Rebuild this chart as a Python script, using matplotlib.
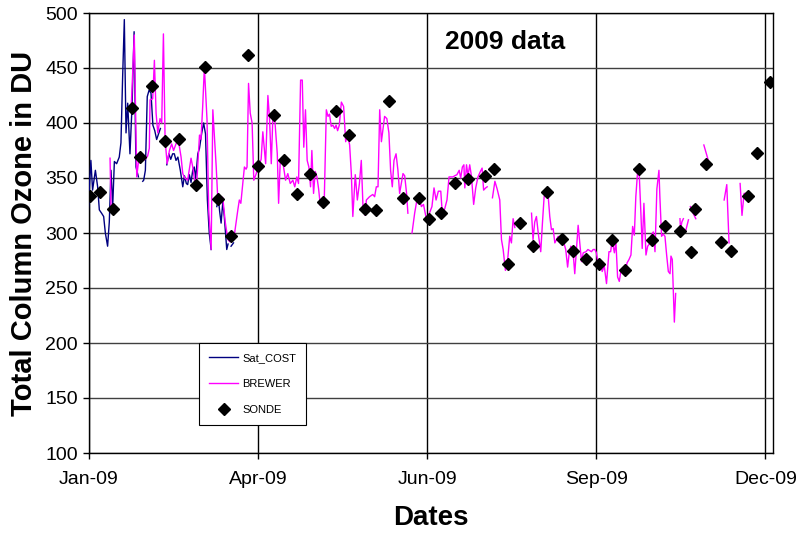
import numpy as np
import matplotlib
matplotlib.use("Agg")
import matplotlib.pyplot as plt
import matplotlib.dates as mdates
from datetime import datetime

# ── Data (day offsets from 1 Jan 2009, values in DU; nan = gap) ─────────────

nan = np.nan

cost_day = [
    -0.4, 0.2, 1.0, 1.9, 3.4, 4.6, 5.5, 6.7, 7.8, 8.7, 9.9, 10.8, 11.7, 12.6,
    13.5, 14.7, 16.1, 17.0, 17.9, 18.8, 19.7, 20.6, 21.8, 22.9, 24.0, 25.0,
    26.3, 27.0,
    28.6, 29.1, 30.0, 31.0, 32.0, 33.0, 34.0, 35.0, 36.0, 37.0, 38.0, 38.5,
    41.4, 42.5, 43.5, 44.5, 45.4, 46.3, 47.3, 48.6, 49.9, 50.8, 51.8, 52.5,
    53.4, 54.3, 55.2, 56.0, 56.8, 57.9, 58.8, 60.0, 61.0, 62.0, 63.0, 64.0,
    65.0, 65.5,
    68.0, 68.9, 69.5, 70.3, 71.2, 72.0, 73.3, 74.0, 74.5,
    75.6, 76.9,
]
cost_du = [
    318, 342, 366, 339, 357, 342, 321, 318, 315, 300, 288, 310, 357, 324,
    365, 363, 369, 382, 442, 494, 391, 418, 372, 415, 483, 360,
    351, nan,
    347, 348, 357, 424, 430, 427, 398, 393, 385, 390, 395, nan,
    362, 372, 367, 372, 372, 366, 369, 357, 342, 352, 345, 344,
    353, 346, 357, 360, 350, 372, 377, 391, 400, 390, 330, 300,
    285, nan,
    324, 331, 320, 309, 328, 315, 285, 290, nan,
    288, 291,
]

brewer_day = [
    11.2, 11.7, 12.0,
    22.4, 24.1, 25.4, 26.4, 28.0, 29.0, 30.4, 31.2, 32.1, 32.5, 33.9, 34.8,
    35.7, 36.6, 37.8, 38.7, 39.6, 40.5, 41.6, 42.8, 44.0, 45.0, 46.3, 47.5,
    49.0, 49.9, 51.0, 52.5, 54.3, 55.2, 56.5, 57.5, 58.8, 59.6, 60.5, 61.4,
    62.8, 63.7, 65.0, 65.9, 67.7, 68.5, 70.3, 71.2, 72.5, 73.9, 75.0, 76.5,
    77.5, 79.2, 80.0, 80.8, 82.7, 83.6, 84.1, 84.9, 85.8, 86.8, 87.7, 89.0,
    89.8, 90.7, 91.6, 92.5, 93.0, 94.0, 95.2, 96.1, 97.0, 97.8, 98.7, 100.2,
    100.9, 101.8, 103.0, 104.6, 105.8, 107.1, 108.5, 109.5, 110.6, 111.5,
    112.6, 113.5, 114.3, 115.2, 116.1, 117.0, 117.9, 118.6, 119.5, 120.4,
    121.3, 122.2, 123.1, 124.2, 125.2, 126.3, 127.2, 128.0, 128.9, 129.8,
    130.7, 131.5, 132.3, 133.2, 134.3, 135.5, 136.6, 137.6, 138.7, 139.6,
    140.4, 141.7, 142.8, 143.9, 144.9, 145.9, 147.0, 147.6, 149.3, 151.0,
    152.0, 152.9, 153.8, 154.7, 155.6, 157.3, 158.5, 159.6, 160.5, 161.4,
    162.3, 163.4, 164.4, 165.3, 167.1, 168.0, 169.0, 169.7, 170.5,
    171.9, 173.3, 174.5, 175.6, 176.9, 178.0, 179.5, 180.5, 182.5, 183.6,
    184.7, 185.9, 187.2, 188.0, 189.3, 190.5, 191.6, 193.7, 194.6, 195.8,
    197.0, 197.8, 198.7, 199.5, 200.0, 200.9, 201.7, 202.6, 203.5, 204.7,
    205.8, 207.0, 208.3, 209.2, 210.0, 211.1, 211.9, 213.0,
    214.7, 216.0, 217.2, 218.6, 219.5, 220.4, 221.6, 222.6, 223.9, 224.8,
    225.7, 226.6, 227.5,
    235.5, 236.3, 237.2, 238.1, 239.2, 240.4, 241.3, 242.2, 243.3, 244.3,
    245.2, 246.1, 247.0, 247.9, 248.8, 249.7, 250.6, 251.6, 252.7, 253.7,
    254.7, 255.5, 256.4, 257.5, 258.5, 259.4, 260.3, 261.2, 262.1, 263.0,
    264.5, 265.5, 266.5, 267.4, 268.3, 269.2, 270.0, 271.0, 272.0, 273.1,
    274.2, 275.4, 276.7, 277.6, 278.4, 279.6, 280.4, 281.3, 282.2, 283.1,
    284.0, 285.4, 286.4, 287.4, 288.4, 289.3, 290.2, 291.0, 292.0, 292.8,
    293.7, 294.4, 295.3, 296.4, 297.3, 298.2, 299.0, 300.3, 301.2, 302.2,
    303.3, 303.8, 304.7, 305.6, 306.5, 307.4, 308.3, 309.2, 309.7, 310.4,
    310.9, 311.5, 312.2, 313.0,
    314.5, 314.8, 315.5, 316.3, 317.0,
    317.7, 319.0, 319.5,
    320.0, 321.5, 322.9, 323.5,
    327.2, 329.4, 330.0,
    338.0, 339.4, 340.6, 341.0,
    346.5, 347.5, 348.6, 350.0,
]
brewer_du = [
    368, 324, nan,
    412, 480, 351, 366, 369, 366, 368, 370, 377, 421, 422, 457,
    409, 391, 404, 400, 481, 384, 363, 375, 381, 375, 381, 385,
    369, 354, 350, 348, 368, 360, 344, 350, 389, 385, 415, 451,
    403, 321, 285, 412, 360, 332, 333, 332, 310, 294, 292, 294,
    300, 321, 330, 327, 360, 358, 360, 436, 409, 400, 348, 354,
    361, 363, 367, 392, 382, 363, 425, 403, 363, 403, 407, 372,
    327, 366, 366, 348, 354, 345, 348, 342, 351, 345,
    439, 439, 378, 412, 366, 360, 342, 375, 336, 356,
    351, 340, 325, 326, 330, 412, 406, 408, 397, 398,
    395, 398, 393, 398, 419, 415, 383, 390, 380, 354,
    315, 353, 330, 345, 366, 320, 316, 330, 333, 335,
    333, 342, 342, 412, 383, 406, 404, 391, 357, 342,
    366, 372, 357, 336, 354, 352, 336, 318, nan,
    300, 318, 330, 332, 324, 326, 313, 315, 324, 341,
    330, 338, 338, 318, 322, 330, 351, 351, 352, 353,
    357, 350, 360, 362, 341, 362, 352, 362, 352, 326,
    341, 351, 356, 359, 339, 341, 342, nan,
    332, 347, 340, 330, 294, 285, 266, 272, 297, 291,
    313, 305, nan,
    318, 294, 310, 315, 298, 283, 309, 333, 337, 335,
    315, 303, 304, 291, 294, 297, 294, 296, 291, 285,
    269, 281, 288, 285, 263, 285, 307, 291, 274, 282,
    283, 285, 284, 283, 285, 285, 282, 272, 275, 265,
    270, 254, 283, 283, 293, 282, 292, 260, 256, 266,
    268, 266, 273, 276, 280, 306, 298, 333, 357, 354,
    318, 286, 327, 280, 288, 290, 297, 301, 283, 340,
    357, 333, 297, 299, 297, 280, 265, 263, 279, 276,
    251, 219, 245, nan,
    313, 303, 310, 313, nan,
    303, 312, nan,
    324, 318, 313, nan,
    380, 367, nan,
    330, 344, 291, nan,
    345, 316, 336, 336,
]

sonde_day = [
    0.7, 5.7, 13.0, 22.9, 27.0, 33.7, 40.7, 47.9, 56.8, 61.8,
    68.9, 75.8, 84.7, 89.8, 98.7, 103.9, 110.8, 117.7, 124.7, 131.6,
    138.5, 146.7, 152.7, 159.6, 166.9, 175.6, 180.8, 187.5, 194.6, 201.7,
    210.6, 215.6, 222.9, 229.4, 236.5, 243.5, 251.6, 257.7, 264.4, 271.3,
    278.3, 285.4, 292.5, 299.6, 306.7, 314.5, 320.3, 322.3, 328.3, 336.5,
    341.7, 350.5, 355.5, 362.4,
]
sonde_du = [
    334, 337, 322, 414, 369, 434, 384, 385, 344, 451,
    331, 297, 462, 361, 407, 366, 335, 354, 328, 411,
    389, 322, 321, 420, 332, 332, 313, 318, 345, 349,
    352, 358, 272, 309, 288, 337, 295, 284, 276, 272,
    294, 266, 358, 294, 306, 302, 283, 322, 363, 292,
    284, 334, 373, 437,
]

# ── Plot ──────────────────────────────────────────────────────────────────────

start = mdates.date2num(datetime(2009, 1, 1))
to_x = lambda d: start + np.asarray(d, dtype=float)

plt.rcParams["font.family"] = ["Liberation Sans", "DejaVu Sans"]

fig = plt.figure(figsize=(7.96, 5.35), dpi=100)
ax = fig.add_axes([89 / 796, 82 / 535, 684 / 796, 440 / 535])

ax.plot(to_x(cost_day), cost_du, color="#000080", lw=1.0, label="Sat_COST", zorder=3)
ax.plot(to_x(brewer_day), brewer_du, color="#FF00FF", lw=1.0, label="BREWER", zorder=4)
ax.plot(to_x(sonde_day), sonde_du, "D", color="black", ms=6, ls="none",
        label="SONDE", zorder=5)

ax.set_xlim(start, start + 364)
ax.set_ylim(100, 500)
ax.set_yticks(np.arange(100, 501, 50))
ax.set_xticks(to_x([0, 90, 180, 270, 360]))
ax.xaxis.set_major_formatter(mdates.DateFormatter("%b-%y"))

ax.grid(True, axis="y", color="#404040", lw=1.0)
ax.grid(True, axis="x", color="black", lw=1.0)
ax.set_axisbelow(True)
for s in ax.spines.values():
    s.set_color("black")
    s.set_linewidth(1.0)

ax.tick_params(direction="out", length=4, width=1, labelsize=14)
ax.tick_params(axis="x", pad=9)
ax.tick_params(axis="y", pad=4)

ax.set_ylabel("Total Column Ozone in DU", fontsize=21, fontweight="bold", labelpad=5)
ax.set_xlabel("Dates", fontsize=20, fontweight="bold", labelpad=12)
ax.text(0.608, 0.935, "2009 data", transform=ax.transAxes, fontsize=19,
        fontweight="bold", ha="center", va="center")

leg = ax.legend(loc="upper left", bbox_to_anchor=(0.161, 0.25), borderaxespad=0,
                fontsize=8, frameon=True, fancybox=False, framealpha=1,
                edgecolor="black", labelspacing=1.45, handlelength=2.6,
                borderpad=0.9, handletextpad=0.4)
leg.get_frame().set_linewidth(0.8)
leg.set_zorder(10)

fig.savefig("out.png", dpi=100)
